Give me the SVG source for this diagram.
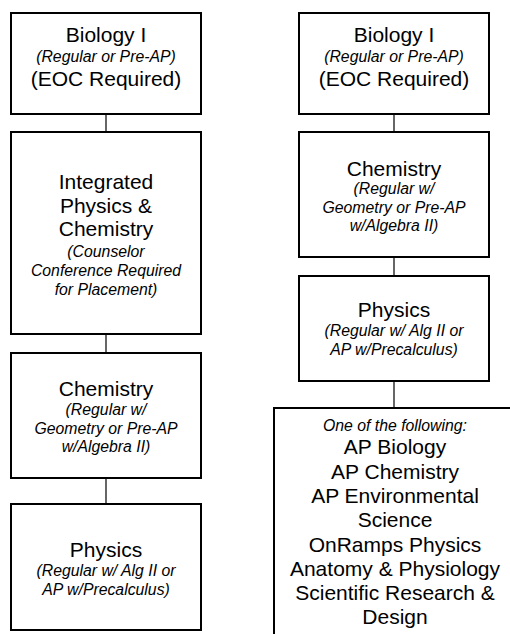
<svg xmlns="http://www.w3.org/2000/svg" width="510" height="634" viewBox="0 0 510 634">
<style>
.box{fill:#fff;stroke:#000;stroke-width:2}
.conn line{stroke:#000;stroke-width:1.2}
text{font-family:"Liberation Sans",Arial,sans-serif;fill:#000;text-anchor:middle}
.b{font-size:21px}
.i{font-size:15.8px;font-style:italic}
</style>
<rect width="510" height="634" fill="#fff"/>
<g id="connectors" class="conn">
<line x1="106" y1="115" x2="106" y2="131"/>
<line x1="106" y1="335" x2="106" y2="352"/>
<line x1="106" y1="479" x2="106" y2="503"/>
<line x1="394" y1="115" x2="394" y2="131"/>
<line x1="394" y1="258" x2="394" y2="275"/>
<line x1="394" y1="382" x2="394" y2="407"/>
</g>
<g id="bio-left">
<rect class="box" x="11" y="13" width="190" height="101"/>
<text class="b" x="106" y="42">Biology I</text>
<text class="i" x="106" y="62">(Regular or Pre-AP)</text>
<text class="b" x="106" y="86">(EOC Required)</text>
</g>
<g id="ipc-left">
<rect class="box" x="11" y="132" width="190" height="202"/>
<text class="b" x="106" y="189">Integrated</text>
<text class="b" x="106" y="212.5">Physics &amp;</text>
<text class="b" x="106" y="236">Chemistry</text>
<text class="i" x="106" y="257">(Counselor</text>
<text class="i" x="106" y="276">Conference Required</text>
<text class="i" x="106" y="295">for Placement)</text>
</g>
<g id="chem-left">
<rect class="box" x="11" y="353" width="190" height="125"/>
<text class="b" x="106" y="396">Chemistry</text>
<text class="i" x="106" y="415">(Regular w/</text>
<text class="i" x="106" y="433.5">Geometry or Pre-AP</text>
<text class="i" x="106" y="452">w/Algebra II)</text>
</g>
<g id="phys-left">
<rect class="box" x="11" y="504" width="190" height="126"/>
<text class="b" x="106" y="557">Physics</text>
<text class="i" x="106" y="576">(Regular w/ Alg II or</text>
<text class="i" x="106" y="594.5">AP w/Precalculus)</text>
</g>
<g id="bio-right">
<rect class="box" x="299" y="13" width="190" height="101"/>
<text class="b" x="394" y="42">Biology I</text>
<text class="i" x="394" y="62">(Regular or Pre-AP)</text>
<text class="b" x="394" y="86">(EOC Required)</text>
</g>
<g id="chem-right">
<rect class="box" x="299" y="132" width="190" height="125"/>
<text class="b" x="394" y="175.5">Chemistry</text>
<text class="i" x="394" y="194">(Regular w/</text>
<text class="i" x="394" y="212.5">Geometry or Pre-AP</text>
<text class="i" x="394" y="231">w/Algebra II)</text>
</g>
<g id="phys-right">
<rect class="box" x="299" y="276" width="190" height="105"/>
<text class="b" x="394" y="317">Physics</text>
<text class="i" x="394" y="336">(Regular w/ Alg II or</text>
<text class="i" x="394" y="355">AP w/Precalculus)</text>
</g>
<g id="electives-right">
<rect class="box" x="274" y="408" width="300" height="300"/>
<text class="i" x="395" y="431">One of the following:</text>
<text class="b" x="395" y="454">AP Biology</text>
<text class="b" x="395" y="478.5">AP Chemistry</text>
<text class="b" x="395" y="503">AP Environmental</text>
<text class="b" x="395" y="527">Science</text>
<text class="b" x="395" y="551.5">OnRamps Physics</text>
<text class="b" x="395" y="575.5">Anatomy &amp; Physiology</text>
<text class="b" x="395" y="599.5">Scientific Research &amp;</text>
<text class="b" x="395" y="624">Design</text>
</g>
</svg>
